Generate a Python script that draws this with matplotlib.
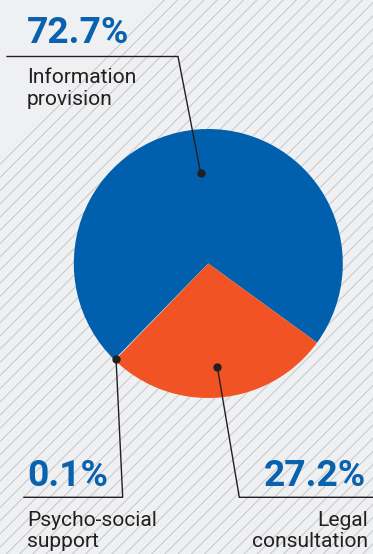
import numpy as np
import matplotlib
matplotlib.use("Agg")
import matplotlib.pyplot as plt

# ---- data ----
categories = ["Information provision", "Psycho-social support", "Legal consultation"]
shares = [72.7, 0.1, 27.2]
share_labels = ["72.7%", "0.1%", "27.2%"]
label_lines = [["Information", "provision"], ["Psycho-social", "support"], ["Legal", "consultation"]]

# ---- style ----
colors = ["#0060ae", "#a6dcc4", "#f15325"]
num_color = "#0a61ae"
text_color = "#231f20"
bg = "#eff0f2"

W, H = 373, 554
fig = plt.figure(figsize=(W / 100, H / 100), dpi=100)
fig.patch.set_facecolor(bg)
ax = fig.add_axes([0, 0, 1, 1])

# hatched background
for c in np.arange(-H - 20, W + 20, 13.2):
    ax.plot([0, W + H], [c, c + W + H], color="#cbcbcd", lw=0.8, zorder=0, solid_capstyle="butt")

cx, cy, R = 208.3, 290.5, 134.5
orient = -85.0  # direction of the legal-consultation wedge centre
total = sum(shares)
start = orient - 360.0 * (shares[0] + shares[1] + shares[2] / 2) / total

wedges, _ = ax.pie(shares, colors=colors, startangle=start, counterclock=True,
                   center=(cx, cy), radius=R, wedgeprops=dict(linewidth=0),
                   normalize=True)
for w in wedges:
    w.set_zorder(2)

ax.set_xlim(0, W)
ax.set_ylim(0, H)
ax.set_aspect("equal")
ax.axis("off")

def img(y):
    return H - y

# leader lines: (radius fraction of marker, elbow point, horizontal end x)
leaders = [
    (0.675, (178.0, img(56.5)), 7.0),
    (0.985, (122.7, img(497.3)), 24.0),
    (0.77, (239.3, img(497.3)), 373.0),
]
for w, (rf, (ex, ey), hx) in zip(wedges, leaders):
    mid = np.deg2rad((w.theta1 + w.theta2) / 2)
    mx, my = cx + rf * R * np.cos(mid), cy + rf * R * np.sin(mid)
    ax.plot([mx, ex, hx], [my, ey, ey], color=text_color, lw=1.0, zorder=5,
            solid_joinstyle="miter")
    ax.plot([mx], [my], "o", color=text_color, ms=5, zorder=6)

num_fs = 26.8
lab_fs = 15.1
fam = ["Roboto", "DejaVu Sans"]

# value labels and category labels
layout = [
    (27, "left", 43, [83, 105]),
    (27, "left", 486, [526, 547]),
    (366, "right", 486, [526, 547]),
]
for (x, ha, nb, lbs), num, lines in zip(layout, share_labels, label_lines):
    ax.text(x, img(nb), num, ha=ha, va="baseline", fontsize=num_fs,
            fontweight="bold", color=num_color, family=fam, zorder=7)
    lx = x if ha == "left" else 368
    for line, b in zip(lines, lbs):
        ax.text(lx, img(b), line, ha=ha, va="baseline", fontsize=lab_fs,
                color=text_color, family=fam, zorder=7)

fig.savefig("out.png", dpi=100, facecolor=bg)
